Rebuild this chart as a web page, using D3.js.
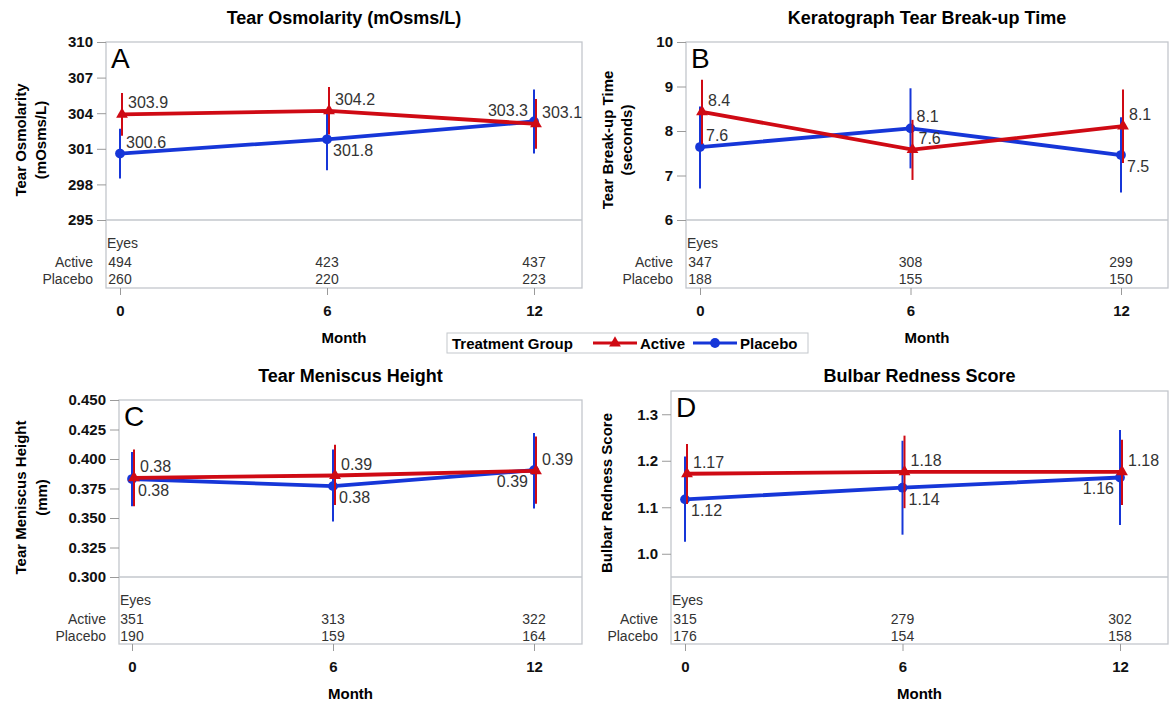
<!DOCTYPE html>
<html>
<head>
<meta charset="utf-8">
<script src="https://cdn.jsdelivr.net/npm/d3@7"></script>
<style>
  body { margin: 0; background: #fff; }
  svg text { font-family: "Liberation Sans", Arial, sans-serif; }
</style>
</head>
<body>
<svg id="chart" width="1170" height="704"></svg>
<script>
// ---- data ----
var months = [0, 6, 12];

// A: tear osmolarity
var osmoActive = [303.9, 304.2, 303.1];
var osmoActiveLo = [302.1, 302.2, 301.0];
var osmoActiveHi = [305.7, 306.2, 305.2];
var osmoPlacebo = [300.6, 301.8, 303.3];
var osmoPlaceboLo = [298.5, 299.2, 300.6];
var osmoPlaceboHi = [302.7, 304.3, 306.0];
var osmoEyesActive = [494, 423, 437];
var osmoEyesPlacebo = [260, 220, 223];
var osmoTicks = [295, 298, 301, 304, 307, 310];

// B: keratograph tear break-up time
var tbutActive = [8.43, 7.58, 8.11];
var tbutActiveLo = [7.70, 6.90, 7.28];
var tbutActiveHi = [9.15, 8.25, 8.93];
var tbutPlacebo = [7.64, 8.06, 7.46];
var tbutPlaceboLo = [6.71, 7.16, 6.62];
var tbutPlaceboHi = [8.55, 8.96, 8.31];
var tbutEyesActive = [347, 308, 299];
var tbutEyesPlacebo = [188, 155, 150];
var tbutTicks = [6, 7, 8, 9, 10];

// C: tear meniscus height
var tmhActive = [0.384, 0.386, 0.390];
var tmhActiveLo = [0.360, 0.361, 0.362];
var tmhActiveHi = [0.408, 0.412, 0.419];
var tmhPlacebo = [0.383, 0.377, 0.3905];
var tmhPlaceboLo = [0.360, 0.347, 0.358];
var tmhPlaceboHi = [0.406, 0.408, 0.422];
var tmhEyesActive = [351, 313, 322];
var tmhEyesPlacebo = [190, 159, 164];
var tmhTicks = [0.300, 0.325, 0.350, 0.375, 0.400, 0.425, 0.450];

// D: bulbar redness score
var redActive = [1.172, 1.176, 1.176];
var redActiveLo = [1.107, 1.098, 1.105];
var redActiveHi = [1.236, 1.254, 1.245];
var redPlacebo = [1.117, 1.142, 1.164];
var redPlaceboLo = [1.026, 1.041, 1.062];
var redPlaceboHi = [1.209, 1.243, 1.266];
var redEyesActive = [315, 279, 302];
var redEyesPlacebo = [176, 154, 158];
var redTicks = [1.0, 1.1, 1.2, 1.3];

var RED = '#cf0a14';
var BLUE = '#1636d8';
var FRAME = '#c3c7cc';
var TICK = '#9a9a9a';

var svg = d3.select('#chart');

/*
 * One panel: frame with plot area on top and the eyes table below
 */
function drawPanel(p) {
  var x = d3.scaleLinear().domain([0, 12]).range(p.xRange);
  var y = d3.scaleLinear().domain(p.yDomain).range([p.plotBottom, p.top]);
  var g = svg.append('g');

  g.append('rect')
    .attr('x', p.left)
    .attr('y', p.top)
    .attr('width', p.right - p.left)
    .attr('height', p.tableBottom - p.top)
    .attr('fill', 'none')
    .attr('stroke', FRAME)
    .attr('stroke-width', 1.3);

  g.append('line')
    .attr('x1', p.left).attr('x2', p.right)
    .attr('y1', p.plotBottom).attr('y2', p.plotBottom)
    .attr('stroke', FRAME)
    .attr('stroke-width', 1.3);

  // y axis
  var yAxis = g.append('g')
    .attr('transform', 'translate(' + p.left + ',0)')
    .call(d3.axisLeft(y).tickValues(p.ticks).tickFormat(p.tickFormat).tickSize(9).tickPadding(4));
  yAxis.select('.domain').remove();
  yAxis.selectAll('line').attr('stroke', TICK);
  yAxis.selectAll('text')
    .attr('font-size', 15)
    .attr('font-weight', 'bold')
    .attr('fill', '#111')
    .style('font-family', '"Liberation Sans", Arial, sans-serif');

  // x axis
  var xAxis = g.append('g')
    .attr('transform', 'translate(0,' + p.tableBottom + ')')
    .call(d3.axisBottom(x).tickValues(months).tickFormat(d3.format('d')).tickSize(7).tickPadding(10));
  xAxis.select('.domain').remove();
  xAxis.selectAll('line').attr('stroke', TICK);
  xAxis.selectAll('text')
    .attr('font-size', 15)
    .attr('font-weight', 'bold')
    .attr('fill', '#111')
    .style('font-family', '"Liberation Sans", Arial, sans-serif');

  // titles
  var cx = (p.left + p.right) / 2;
  g.append('text')
    .attr('x', cx)
    .attr('y', p.titleY)
    .attr('text-anchor', 'middle')
    .attr('font-size', 18)
    .attr('font-weight', 'bold')
    .text(p.title);

  g.append('text')
    .attr('x', cx)
    .attr('y', p.tableBottom + 55)
    .attr('text-anchor', 'middle')
    .attr('font-size', 15)
    .attr('font-weight', 'bold')
    .text('Month');

  var yMid = (p.top + p.plotBottom) / 2 + 9;
  p.yLabel.forEach(function(line, i) {
    var lx = p.yLabelX[i];
    g.append('text')
      .attr('transform', 'translate(' + lx + ',' + yMid + ') rotate(-90)')
      .attr('text-anchor', 'middle')
      .attr('dy', '0.35em')
      .attr('font-size', 15)
      .attr('font-weight', 'bold')
      .text(line);
  });

  g.append('text')
    .attr('x', p.left + 5)
    .attr('y', p.top + 26)
    .attr('font-size', 28)
    .attr('fill', '#000')
    .text(p.letter);

  // series: placebo first, active on top
  var line = d3.line()
    .x(function(d) { return x(d.m) + d.dx; })
    .y(function(d) { return y(d.v); });

  p.series.forEach(function(s) {
    var pts = months.map(function(m, i) {
      return { m: m, v: s.values[i], lo: s.lo[i], hi: s.hi[i], dx: s.dx, pos: s.pos[i] };
    });
    var sg = g.append('g');

    sg.selectAll('.err')
      .data(pts)
      .enter().append('line')
      .attr('class', 'err')
      .attr('x1', function(d) { return x(d.m) + d.dx; })
      .attr('x2', function(d) { return x(d.m) + d.dx; })
      .attr('y1', function(d) { return y(d.lo); })
      .attr('y2', function(d) { return y(d.hi); })
      .attr('stroke', s.color)
      .attr('stroke-width', 2);

    sg.append('path')
      .datum(pts)
      .attr('d', line)
      .attr('fill', 'none')
      .attr('stroke', s.color)
      .attr('stroke-width', 3.8);

    sg.selectAll('.mark')
      .data(pts)
      .enter().append('path')
      .attr('class', 'mark')
      .attr('transform', function(d) { return 'translate(' + (x(d.m) + d.dx) + ',' + y(d.v) + ')'; })
      .attr('d', d3.symbol().type(s.shape).size(s.shape === d3.symbolTriangle ? 60 : 75))
      .attr('fill', s.color);

    s.pts = pts;
  });

  p.series.forEach(function(s) {
    g.selectAll(null)
      .data(s.pts)
      .enter().append('text')
      .attr('x', function(d) {
        var west = d.pos.charAt(1) === 'w';
        return x(d.m) + d.dx + (west ? -6 : 6);
      })
      .attr('y', function(d) {
        return y(d.v) + (d.pos.charAt(0) === 'n' ? -6 : 17);
      })
      .attr('text-anchor', function(d) { return d.pos.charAt(1) === 'w' ? 'end' : 'start'; })
      .attr('font-size', 16)
      .attr('fill', '#333')
      .text(function(d) { return p.labelFormat(d.v); });
  });

  // eyes table
  var rowY = [p.plotBottom + 28, p.plotBottom + 47, p.plotBottom + 64];
  g.append('text')
    .attr('x', p.left + 1)
    .attr('y', rowY[0])
    .attr('font-size', 14)
    .attr('fill', '#333')
    .text('Eyes');

  var rows = [
    { name: 'Active', counts: p.eyesActive, y: rowY[1] },
    { name: 'Placebo', counts: p.eyesPlacebo, y: rowY[2] }
  ];
  rows.forEach(function(r) {
    g.append('text')
      .attr('x', p.left - 13)
      .attr('y', r.y)
      .attr('text-anchor', 'end')
      .attr('font-size', 14)
      .attr('fill', '#333')
      .text(r.name);
    g.selectAll(null)
      .data(r.counts)
      .enter().append('text')
      .attr('x', function(d, i) { return x(months[i]); })
      .attr('y', r.y)
      .attr('text-anchor', 'middle')
      .attr('font-size', 14)
      .attr('fill', '#333')
      .text(function(d) { return d; });
  });
}

function seriesPair(act, actLo, actHi, actPos, plc, plcLo, plcHi, plcPos) {
  return [
    { values: plc, lo: plcLo, hi: plcHi, color: BLUE, shape: d3.symbolCircle, dx: 0, pos: plcPos },
    { values: act, lo: actLo, hi: actHi, color: RED, shape: d3.symbolTriangle, dx: 2, pos: actPos }
  ];
}

drawPanel({
  left: 106, right: 582, top: 42, plotBottom: 220, tableBottom: 288, titleY: 24,
  xRange: [120, 534], yDomain: [295, 310],
  ticks: osmoTicks, tickFormat: d3.format('d'), labelFormat: d3.format('.1f'),
  title: 'Tear Osmolarity (mOsms/L)', yLabel: ['Tear Osmolarity', '(mOsms/L)'], yLabelX: [21, 41],
  letter: 'A',
  eyesActive: osmoEyesActive, eyesPlacebo: osmoEyesPlacebo,
  series: seriesPair(osmoActive, osmoActiveLo, osmoActiveHi, ['ne', 'ne', 'ne'],
    osmoPlacebo, osmoPlaceboLo, osmoPlaceboHi, ['ne', 'se', 'nw'])
});

drawPanel({
  left: 686, right: 1168, top: 42, plotBottom: 220, tableBottom: 288, titleY: 24,
  xRange: [700, 1121], yDomain: [6, 10],
  ticks: tbutTicks, tickFormat: d3.format('d'), labelFormat: d3.format('.1f'),
  title: 'Keratograph Tear Break-up Time', yLabel: ['Tear Break-up Time', '(seconds)'], yLabelX: [608, 627],
  letter: 'B',
  eyesActive: tbutEyesActive, eyesPlacebo: tbutEyesPlacebo,
  series: seriesPair(tbutActive, tbutActiveLo, tbutActiveHi, ['ne', 'ne', 'ne'],
    tbutPlacebo, tbutPlaceboLo, tbutPlaceboHi, ['ne', 'ne', 'se'])
});

drawPanel({
  left: 119, right: 582, top: 400, plotBottom: 577, tableBottom: 644, titleY: 382,
  xRange: [132, 534], yDomain: [0.300, 0.450],
  ticks: tmhTicks, tickFormat: d3.format('.3f'), labelFormat: d3.format('.2f'),
  title: 'Tear Meniscus Height', yLabel: ['Tear Meniscus Height', '(mm)'], yLabelX: [21, 42],
  letter: 'C',
  eyesActive: tmhEyesActive, eyesPlacebo: tmhEyesPlacebo,
  series: seriesPair(tmhActive, tmhActiveLo, tmhActiveHi, ['ne', 'ne', 'ne'],
    tmhPlacebo, tmhPlaceboLo, tmhPlaceboHi, ['se', 'se', 'sw'])
});

drawPanel({
  left: 671, right: 1168, top: 391, plotBottom: 577, tableBottom: 644, titleY: 382,
  xRange: [685, 1120], yDomain: [0.95, 1.35],
  ticks: redTicks, tickFormat: d3.format('.1f'), labelFormat: d3.format('.2f'),
  title: 'Bulbar Redness Score', yLabel: ['Bulbar Redness Score'], yLabelX: [607],
  letter: 'D',
  eyesActive: redEyesActive, eyesPlacebo: redEyesPlacebo,
  series: seriesPair(redActive, redActiveLo, redActiveHi, ['ne', 'ne', 'ne'],
    redPlacebo, redPlaceboLo, redPlaceboHi, ['se', 'se', 'sw'])
});

/*
 * Legend
 */
var legend = svg.append('g');
legend.append('rect')
  .attr('x', 447).attr('y', 333)
  .attr('width', 361).attr('height', 20)
  .attr('fill', '#fff')
  .attr('stroke', FRAME);

legend.append('text')
  .attr('x', 452).attr('y', 348.5)
  .attr('font-size', 15).attr('font-weight', 'bold')
  .text('Treatment Group');

var legendItems = [
  { name: 'Active', color: RED, shape: d3.symbolTriangle, x0: 593 },
  { name: 'Placebo', color: BLUE, shape: d3.symbolCircle, x0: 693 }
];
legendItems.forEach(function(it) {
  legend.append('line')
    .attr('x1', it.x0).attr('x2', it.x0 + 44)
    .attr('y1', 343).attr('y2', 343)
    .attr('stroke', it.color).attr('stroke-width', 3);
  legend.append('path')
    .attr('transform', 'translate(' + (it.x0 + 22) + ',343)')
    .attr('d', d3.symbol().type(it.shape).size(it.shape === d3.symbolTriangle ? 60 : 75))
    .attr('fill', it.color);
  legend.append('text')
    .attr('x', it.x0 + 47).attr('y', 348.5)
    .attr('font-size', 15).attr('font-weight', 'bold')
    .text(it.name);
});
</script>
</body>
</html>
